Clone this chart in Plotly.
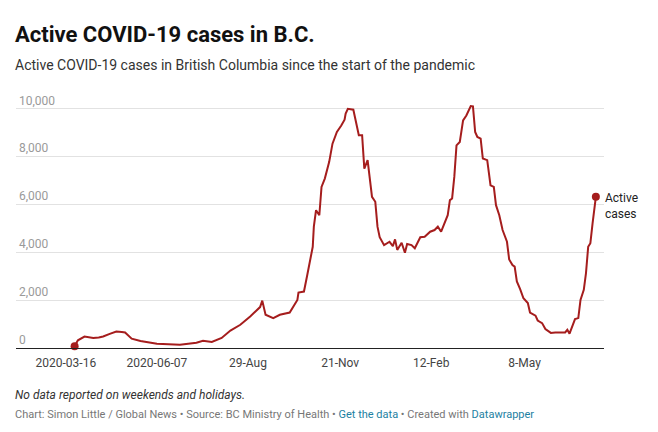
import plotly.graph_objects as go

# Active COVID-19 cases in B.C.
dates = [
    "2020-03-24", "2020-03-27", "2020-04-02", "2020-04-06", "2020-04-10", "2020-04-15",
    "2020-04-19", "2020-04-25", "2020-05-01", "2020-05-06", "2020-05-09", "2020-05-15",
    "2020-05-23", "2020-06-07", "2020-06-28", "2020-07-13", "2020-07-19", "2020-07-27",
    "2020-08-05", "2020-08-13", "2020-08-22", "2020-08-31", "2020-09-09", "2020-09-11",
    "2020-09-14", "2020-09-21", "2020-09-27", "2020-10-06", "2020-10-10", "2020-10-13",
    "2020-10-14", "2020-10-19", "2020-10-22", "2020-10-25", "2020-10-27", "2020-10-28",
    "2020-10-30", "2020-11-02", "2020-11-04", "2020-11-07", "2020-11-11", "2020-11-14",
    "2020-11-18", "2020-11-22", "2020-11-25", "2020-11-26", "2020-11-28", "2020-12-03",
    "2020-12-08", "2020-12-11", "2020-12-13", "2020-12-16", "2020-12-20", "2020-12-23",
    "2020-12-25", "2020-12-27", "2020-12-31", "2021-01-05", "2021-01-08", "2021-01-10",
    "2021-01-12", "2021-01-16", "2021-01-19", "2021-01-21", "2021-01-25", "2021-01-28",
    "2021-02-02", "2021-02-06", "2021-02-11", "2021-02-15", "2021-02-18", "2021-02-21",
    "2021-02-24", "2021-02-27", "2021-03-01", "2021-03-03", "2021-03-05", "2021-03-07",
    "2021-03-10", "2021-03-13", "2021-03-16", "2021-03-18", "2021-03-20", "2021-03-22",
    "2021-03-24", "2021-03-26", "2021-03-29", "2021-03-31", "2021-04-04", "2021-04-07",
    "2021-04-10", "2021-04-12", "2021-04-15", "2021-04-18", "2021-04-22", "2021-04-24",
    "2021-04-27", "2021-04-29", "2021-05-01", "2021-05-04", "2021-05-07", "2021-05-11",
    "2021-05-13", "2021-05-18", "2021-05-20", "2021-05-24", "2021-05-27", "2021-06-01",
    "2021-06-05", "2021-06-14", "2021-06-16", "2021-06-18", "2021-06-20", "2021-06-23",
    "2021-06-26", "2021-06-28", "2021-07-01", "2021-07-03", "2021-07-05", "2021-07-07",
    "2021-07-09", "2021-07-12",
]
active_cases = [
    70, 320, 480, 455, 415, 440,
    480, 590, 690, 670, 650, 390,
    290, 180, 140, 220, 300, 250,
    420, 730, 970, 1320, 1710, 1980,
    1390, 1250, 1390, 1480, 1800, 2010,
    2320, 2360, 3050, 3710, 4230, 5070,
    5760, 5550, 6730, 7080, 7780, 8540,
    9030, 9300, 9540, 9800, 10000, 9960,
    8890, 8890, 7500, 7850, 6320, 6110,
    5070, 4630, 4300, 4440, 4260, 4540,
    4100, 4400, 3980, 4350, 4300, 4170,
    4630, 4650, 4860, 4930, 5070, 4860,
    5210, 5550, 6180, 6250, 7150, 8470,
    8610, 9510, 9720, 9930, 10110, 10100,
    9030, 8820, 8750, 7920, 7850, 6800,
    6730, 5970, 5550, 4930, 4440, 3700,
    3470, 3400, 2780, 2460, 2080, 1880,
    1480, 1350, 1150, 1040, 790, 630,
    650, 650, 760, 600, 830, 1210,
    1250, 2010, 2430, 3130, 4230, 4380,
    5210, 6320,
]

x_tick_vals = ["2020-03-16", "2020-06-07", "2020-08-29", "2020-11-21", "2021-02-12", "2021-05-08"]
x_tick_text = ["2020-03-16", "2020-06-07", "29-Aug", "21-Nov", "12-Feb", "8-May"]
y_tick_vals = [0, 2000, 4000, 6000, 8000, 10000]
y_tick_text = ["0", "2,000", "4,000", "6,000", "8,000", "10,000"]

LINE = "#a51d1d"
FONT = "Roboto, sans-serif"

# the page body adds an 8px offset, so the figure is 8px smaller each way.
# plot area on screen: x 16..604, y 92..348
def px_x(px):
    return (px - 16) / 588

def px_y(py):
    return (348 - py) / 256

fig = go.Figure()
fig.add_trace(go.Scatter(x=dates, y=active_cases, mode="lines",
                         line=dict(color=LINE, width=2), hoverinfo="x+y"))
fig.add_trace(go.Scatter(x=[dates[0], dates[-1]], y=[active_cases[0], active_cases[-1]],
                         mode="markers", marker=dict(color=LINE, size=8), cliponaxis=False))

fig.update_layout(
    width=650, height=424,
    margin=dict(l=8, r=54, t=84, b=84),
    paper_bgcolor="white", plot_bgcolor="white",
    showlegend=False,
    font=dict(family=FONT, color="#333"),
)
fig.update_xaxes(type="date", range=["2020-01-30 14:00", "2021-07-19 10:00"],
                 tickvals=x_tick_vals, ticktext=x_tick_text, ticks="", ticklabelstandoff=4,
                 showgrid=False, showline=True, linecolor="#222", linewidth=1,
                 zeroline=False, tickfont=dict(size=12, color="#444"))
fig.update_yaxes(range=[0, 10700], tickvals=y_tick_vals, ticktext=y_tick_text,
                 ticklabelposition="inside top", ticklabeloverflow="allow", ticks="",
                 showgrid=True, gridcolor="#e2e2e2", gridwidth=1,
                 zeroline=False, showline=False, tickfont=dict(size=12, color="#9a9a9a"))

ann = [
    dict(text="<b>Active COVID-19 cases in B.C.</b>", x=px_x(13), y=px_y(34),
         font=dict(size=22, color="#111")),
    dict(text="Active COVID-19 cases in British Columbia since the start of the pandemic",
         x=px_x(13), y=px_y(64.5), font=dict(size=14, color="#333")),
    dict(text="<i>No data reported on weekends and holidays.</i>", x=px_x(13), y=px_y(395),
         font=dict(size=12, color="#333")),
    dict(text="Chart: Simon Little / Global News • Source: BC Ministry of Health • "
              "<span style='color:#1d81a2'>Get the data</span> • Created with "
              "<span style='color:#1d81a2'>Datawrapper</span>",
         x=px_x(13), y=px_y(414), font=dict(size=11, color="#777")),
]
for a in ann:
    fig.add_annotation(xref="paper", yref="paper", xanchor="left", yanchor="middle",
                       showarrow=False, align="left", **a)

fig.add_annotation(x=dates[-1], y=active_cases[-1], text="Active<br>cases",
                   xanchor="left", yanchor="top", xshift=7, yshift=8, align="left",
                   showarrow=False, font=dict(size=12, color="#222"))

fig.write_html("out.html")
